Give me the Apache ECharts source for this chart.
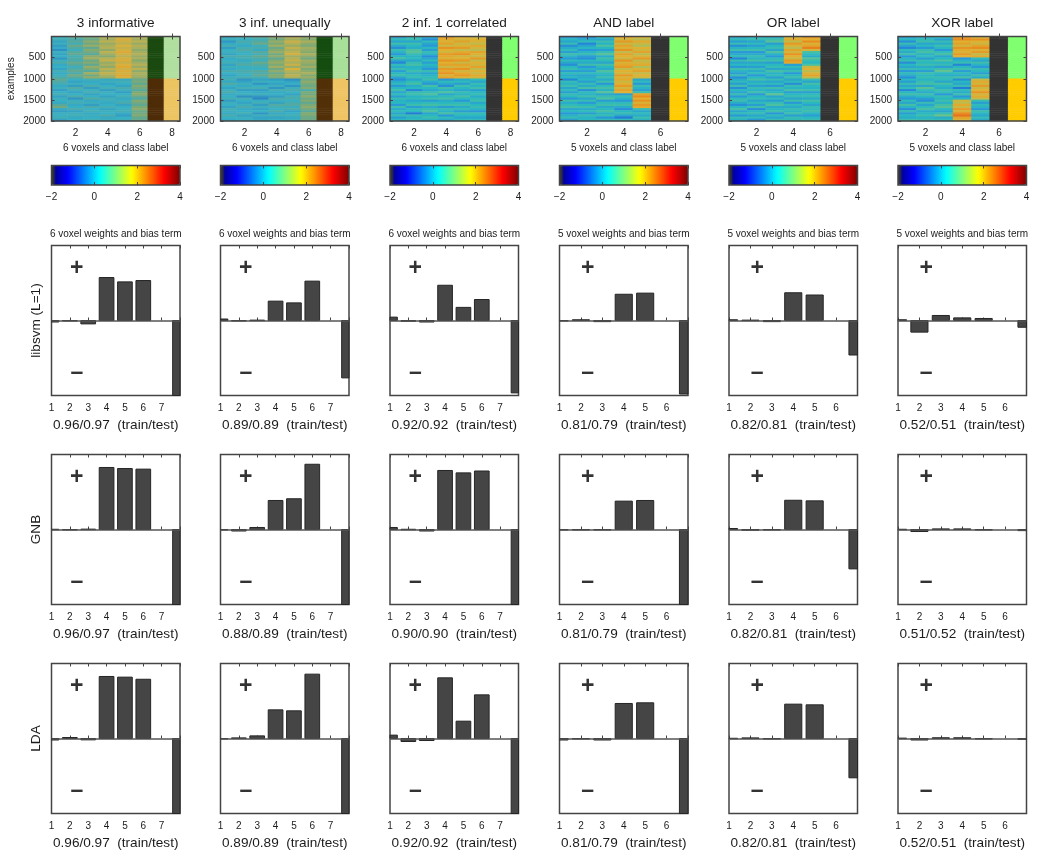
<!DOCTYPE html>
<html><head><meta charset="utf-8">
<style>html,body{margin:0;padding:0;background:#fff}#c{width:1050px;height:864px}</style>
<script src="https://cdn.jsdelivr.net/npm/echarts@6/dist/echarts.min.js"></script>
</head><body><div id="c"></div>
<script>
const panelTitles=['3 informative','3 inf. unequally','2 inf. 1 correlated','AND label','OR label','XOR label'];
const heatXNames=['6 voxels and class label','6 voxels and class label','6 voxels and class label','5 voxels and class label','5 voxels and class label','5 voxels and class label'];
const weightTitles=['6 voxel weights and bias term','6 voxel weights and bias term','6 voxel weights and bias term','5 voxel weights and bias term','5 voxel weights and bias term','5 voxel weights and bias term'];
const classifiers=['libsvm (L=1)','GNB','LDA'];
const scores=[
 ['0.96/0.97','0.89/0.89','0.92/0.92','0.81/0.79','0.82/0.81','0.52/0.51'],
 ['0.96/0.97','0.88/0.89','0.90/0.90','0.81/0.79','0.82/0.81','0.51/0.52'],
 ['0.96/0.97','0.89/0.89','0.92/0.92','0.81/0.79','0.82/0.81','0.52/0.51']];
// weights: voxels, empty slot, bias term
const libsvmWeights=[
 [-.02,-.005,-.045,.573,.515,.533,null,-1],
 [.02,-.005,.005,.258,.235,.525,null,-.765],
 [.045,-.01,-.02,.47,.175,.28,null,-.965],
 [-.005,.01,-.015,.35,.365,null,-.98],
 [.01,.005,-.015,.37,.34,null,-.46],
 [.01,-.155,.067,.035,.027,null,-.09]];
const gnbWeights=[
 [.003,-.005,.005,.827,.813,.805,null,-1],
 [0,-.02,.027,.387,.41,.87,null,-1],
 [.027,.003,-.02,.787,.755,.78,null,-1],
 [-.003,-.003,0,.378,.387,null,-1],
 [.013,-.01,-.005,.39,.382,null,-.525],
 [.003,-.027,.008,.008,0,null,-.015]];
const ldaWeights=[
 [-.02,.013,-.018,.827,.818,.79,null,-1],
 [0,.008,.035,.382,.369,.858,null,-1],
 [.045,-.04,-.027,.809,.231,.582,null,-1],
 [-.02,0,-.02,.467,.476,null,-1],
 [.003,.008,-.005,.458,.449,null,-.524],
 [.005,-.02,.01,.01,0,null,-.012]];
const signX=[2.38,2.38,2.38,2.32,2.32,2.32];
const plusY=.69, minusY=-.70;
// voxel values per column, 40 rows of 50 examples each
const heat1=[
[.0,.2,-.2,.1,-.3,-.1,-.5,.1,-.2,.0,-.4,.1,.3,-.1,.0,-.2,.2,-.1,.1,.3, .6,.4,.2,-.1,.1,-.3,.0,.2,-.2,.1,.0,-.1,.5,.8,-.1,-.3,.1,.0,.2,-.2],
[.6,.3,.5,.2,.7,.4,.1,.5,.6,.2,.4,.3,.7,.5,.1,.4,.6,.3,.8,.5, .0,-.2,.1,-.3,.4,.1,-.2,.0,.3,-.4,.1,.2,-.1,.0,.3,-.2,.1,.2,-.1,.0],
[.9,.7,1.1,.8,1.2,.6,1.0,.8,.5,1.1,1.3,.7,1.0,.6,1.2,.9,.5,1.3,.8,1.1, .2,-.1,.0,.3,-.3,.1,.2,-.2,.0,.4,-.1,.1,-.3,.3,.0,.2,-.1,.1,.0,.2],
[1.5,1.3,1.6,1.2,1.4,1.5,1.1,1.6,1.3,1.0,1.5,1.7,1.2,1.4,1.1,1.6,1.3,1.7,1.4,1.2, -.1,.1,-.2,.0,.2,-.3,.1,.0,-.2,.2,.1,-.1,.0,.2,-.2,.1,.0,.3,-.1,.1],
[1.7,2.1,1.8,1.6,2.0,1.7,1.9,2.2,1.8,1.6,1.9,2.1,1.7,2.0,2.2,1.8,2.1,1.9,2.2,2.0, -.1,.2,.0,-.2,.3,.1,-.3,.0,.2,-.1,.1,.3,-.2,.0,.1,.2,-.1,-.3,.0,.1],
[1.5,1.3,1.6,1.2,1.5,1.4,1.1,1.3,1.5,1.2,1.4,1.0,1.3,1.5,1.2,1.6,1.1,1.4,1.3,1.2, .7,.9,.6,1.0,.8,.5,.9,1.1,.7,.4,1.0,.8,.6,.9,1.1,.7,.8,1.0,.6,.7]];
const heat2=[
[-.2,.1,-.4,-.1,.2,-.3,.0,.1,-.2,.3,-.1,.0,.2,-.2,.1,-.1,.3,.0,-.2,.1, .2,-.1,.4,.0,-.2,.1,.3,-.1,.0,.2,-.3,.1,.0,-.2,.2,.1,-.1,.3,.0,-.1],
[.2,.0,.3,.1,-.1,.2,.4,.1,.0,.3,.2,-.1,.2,.4,.0,.1,.3,.2,.0,.3, -.4,-.2,.1,-.1,.2,-.3,.0,.1,-.5,.2,.0,-.2,.1,.3,-.1,.0,.2,-.2,.1,.0],
[.5,.2,.4,.7,.1,.3,-.1,.5,.2,.6,.3,.1,.7,.4,.2,.0,.5,.3,.6,.2, -.2,.1,-.4,.0,.2,-.3,-.1,.1,-.4,-.6,.0,.2,-.3,.1,-.2,.0,-.4,.1,-.2,-.1],
[1.1,.8,1.2,.9,1.3,.7,1.0,1.2,.8,1.1,.6,1.0,1.2,.9,1.3,.8,1.1,.7,1.0,.9, -.3,.0,-.2,.1,-.4,.2,-.1,.0,-.3,.3,.1,-.2,.4,.2,.0,.3,-.1,.2,-.2,.0],
[1.6,1.3,1.8,1.5,1.2,1.7,1.4,1.6,1.9,1.3,1.5,1.7,1.4,1.8,1.2,2.0,1.5,1.3,1.6,1.4, -.5,-.2,.0,-.4,.1,.3,.0,-.2,.2,.3,.0,.3,.4,.1,.3,-.2,.0,.2,-.1,.1],
[1.2,1.0,1.4,1.1,.9,1.3,1.2,1.0,1.4,1.1,.8,1.3,1.2,1.0,1.3,.9,1.1,1.4,1.0,1.2, .8,1.1,.9,.7,1.0,.3,.9,.8,1.1,.7,1.0,.6,.9,1.1,.8,.5,1.0,.9,.7,.8]];
const heat3=[
[-.4,.1,-.3,.3,-.2,-.6,.2,-.1,-.5,.0,.4,-.3,-.7,.1,-.2,.2,-.4,.0,.3,-.3, -.6,-.2,.1,-.5,.0,.3,-.3,.1,-.4,.2,-.1,.0,-.5,.3,-.2,.1,-.3,.2,-.4,.0],
[.0,.2,-.3,.3,.0,-.2,.5,.6,.2,-.1,.1,-.3,.2,.4,-.1,.0,.3,-.2,.1,.2, -.3,.1,.4,-.2,.0,-.7,.2,.3,-.1,.1,-.3,.0,.3,-.4,.1,.0,-.8,.2,-.1,.1],
[-.2,-.6,.1,-.3,-.5,.0,-.4,.2,-.1,-.6,-.3,.1,-.4,.0,-.2,-.5,.2,-.3,-.1,.1, .3,-.2,-.5,.4,.0,-.3,.2,.5,-.1,.3,-.4,.1,.4,-.2,.2,.5,-.3,.0,.3,-.1],
[2.3,2.1,1.9,2.2,1.7,2.4,2.0,1.8,2.3,2.1,1.9,2.4,2.0,2.2,1.7,2.3,2.1,2.4,1.9,2.2, -.5,.1,-.2,-.6,.3,-.1,.5,-.3,.1,.4,-.2,.0,.3,-.4,.2,-.1,.4,-.5,.1,-.2],
[2.0,1.8,2.2,1.7,1.9,2.3,1.6,2.1,2.4,1.8,2.0,2.3,1.7,2.2,1.9,2.4,1.8,2.1,2.3,1.9, -.2,.1,-.4,.3,.0,-.3,.2,-.1,.4,.0,-.5,.1,.3,-.2,.1,-.4,.2,.0,-.3,.1],
[1.7,2.0,1.9,1.6,2.1,1.8,1.5,2.2,1.9,1.7,2.3,1.6,2.0,1.8,2.2,1.6,2.0,1.7,2.1,1.8, .1,-.3,.2,-.1,.3,-.4,.0,.2,-.2,.1,.3,-.3,.0,.2,-.1,-.5,.2,.0,-.3,.1]];
const heat4=[
[-.5,.0,-.3,.2,-.6,-.2,.1,-.4,.3,-.1,-.5,.1,-.3,-.6,.0,.2,-.4,.1,-.2,.0, -.7,.2,-.1,.3,-.3,.1,-.4,.2,.0,-.5,.3,-.2,.1,.4,-.3,.0,-.5,-.1,.2,-.4],
[-.6,-.2,.1,-.7,-.3,.0,-.5,-.1,.2,-.4,-.6,.0,-.2,.3,-.5,-.1,-.4,.1,-.3,-.2, .0,-.4,.2,-.2,.4,-.6,.1,-.1,.3,-.3,.2,-.5,.0,.3,-.2,.1,-.4,.2,-.1,.0],
[.1,-.3,.3,-.1,.5,.0,-.4,.2,.6,-.2,.3,.1,-.3,.4,.0,-.2,.5,.1,-.1,.3, -.2,.3,-.5,.1,.4,-.1,.6,-.3,.2,.5,-.4,.1,.3,-.2,.0,.4,-.1,.2,-.5,.1],
[2.1,1.8,2.3,1.7,2.2,1.9,2.4,1.6,2.2,2.0,1.7,2.4,1.9,2.1,2.3,1.6,2.0,1.8,2.3,1.9, 2.1,1.7,2.0,2.3,1.8,2.2,2.0, -.4,.2,-.1,-.5,.1,.3,-.2,-.6,.0,.2,-.3,-.8,.1],
[1.9,1.5,2.1,1.7,1.4,2.0,1.8,2.2,1.5,1.9,2.3,1.6,1.8,2.1,1.4,1.9,2.2,1.6,2.0,1.7, -.3,.1,-.5,.2,-.1,-.4,.3, 2.2,2.5,2.0,2.4,1.9,2.3,2.1, .2,-.3,.1,-.2,.3,-.1]];
const heat5=[
[-.3,.1,-.4,.2,-.6,-.1,.3,-.5,-.2,.1,-.7,.2,-.3,.0,-.5,.3,-.1,-.4,.2,-.6, -.2,.1,-.4,.3,-.6,.0,-.3,.2,-.5,.1,.3,-.2,-.6,.0,.4,-.3,.1,-.5,.2,-.1],
[-.1,.2,-.3,.1,-.4,.0,.3,-.5,-.2,.2,-.1,.4,-.3,.0,-.4,.2,-.2,.1,-.5,.0, .4,-.2,.1,-.4,.2,-.1,.3,-.5,.0,.2,-.3,.1,-.4,.3,-.6,.0,.2,-.3,.1,-.5],
[-.2,.3,.6,-.4,.0,.2,-.3,.5,-.1,-.5,.1,.3,-.4,.0,.2,-.3,.4,-.1,.1,-.4, .2,-.3,.1,-.5,.3,-.2,.0,.7,-.3,.1,-.4,.2,.5,-.2,.0,.3,-.5,.1,-.3,.2],
[1.8,2.1,1.6,2.3,1.9,1.5,2.2,1.8,2.4,2.0,1.7,2.3,2.1, -.4,.1,-.2,.2,-.5,.0,.3, -.3,.1,-.6,.2,-.1,.4,-.4,.0,.2,-.3,.3,-.5,.1,-.2,.2,.0,.3,-.4,.2,.1],
[2.4,2.0,2.5,1.9,2.2,2.6,1.8, .4,.1,-.2,.6,.2,.0,.5, 1.7,2.0,1.5,1.9,2.2,1.6, .2,-.3,.4,.0,-.1,.3,-.4,.1,.2,-.2,.4,.0,-.3,.2,.1,.3,-.1,-.4,.0,.2]];
const heat6=[
[-.4,.0,-.6,.2,-.3,-.7,.1,-.2,.3,-.5,-.1,.2,-.6,.0,-.3,.2,-.5,.1,-.2,-.6, .0,-.4,.2,-.3,.1,-.7,.0,.3,-.2,-.5,.1,-.3,.4,-.1,-.6,.2,-.4,.0,-.2,.3],
[-.2,.1,.3,-.3,.0,-.5,.2,.4,-.1,.1,-.4,.2,.0,.3,-.2,.1,-.4,.3,.0,.2, -.1,.2,.4,-.3,.6,.1,-.2,.3,.0,-.4,-.6,.2,-.3,.1,.4,-.2,.0,.3,-.1,.2],
[.1,-.4,.2,-.2,.3,.0,-.5,.1,.4,-.3,.0,.5,-.1,.2,-.4,.3,.7,.0,-.2,.2, .1,-.3,.4,.0,-.2,.3,.1,-.5,.2,.0,.3,-.1,.4,.6,.0,-.3,.2,.8,-.2,.1],
[2.3,2.5,2.0,2.2,1.8,2.4,2.1,1.9,2.3,2.0, -.5,-.1,.2,-.7,.0,.3,-.4,.1,-.2,.4, -.6,.0,-.3,.2,-.8,.1,-.2,.3,-.5,.0, 1.8,1.6,2.1,1.7,2.3,1.9,2.5,2.7,2.2,1.9],
[1.8,2.4,2.0,1.7,2.2,2.5,1.9,2.3,1.6,2.1, .1,-.3,.3,-.1,-.5,.2,.0,-.4,.3,-.2, 1.6,2.1,1.8,2.3,1.7,2.0,2.4,1.8,2.1,1.6, .2,-.4,.1,-.1,-.5,.3,.0,-.3,.2,-.2]];
const heatPanels=[heat1,heat2,heat3,heat4,heat5,heat6];
const heatColumnLabels=[['1','2','3','4','5','6','7','8'],['1','2','3','4','5','6','7','8'],['1','2','3','4','5','6','7','8'],['1','2','3','4','5','6','7'],['1','2','3','4','5','6','7'],['1','2','3','4','5','6','7']];
const rowsPerClass=20;
const classColumnColors=[
 {gap:['#1b4a10','#4e2c08'],label:['#b0dfa0','#ecc462']},
 {gap:['#154d10','#523008'],label:['#a8e09a','#eec464']},
 {gap:['#333333','#333333'],label:['#80ff70','#ffcc00']},
 {gap:['#333333','#333333'],label:['#80ff70','#ffcc00']},
 {gap:['#333333','#333333'],label:['#80ff70','#ffcc00']},
 {gap:['#333333','#333333'],label:['#80ff70','#ffcc00']}];
const colorbarTicks=[-2,4];

// ---- layout and styling ----
const FONT='"Liberation Sans",Arial,sans-serif', TXT='#1c1c1c', LINE='#444';
const colLeft=[51.5,220.5,390,559.5,729,898], W=128.5;
const heatTop=36.5, heatH=84.5, barTop=[245.5,454.5,663.5], barH=150, cbTop=165.5, cbH=19.5;
const jet=[];
for(let i=0;i<64;i++){const t=i/63;const f=c=>Math.round(255*Math.max(0,Math.min(1,1.5-Math.abs(4*t-c))));
  jet.push(i<2?'#333333':'rgb('+f(3)+','+f(2)+','+f(1)+')');}
const mutedA=['#20307a','#2840a0','#2c68b8','#3090c4','#38b0c4','#58a89c','#84aa70','#b4b058','#d8b03c','#e89c30','#e06020','#b83010','#701010'];
const mutedB=['#10186a','#1030b0','#2068d8','#2a98d8','#2ab8c0','#4cc0a0','#7cc47c','#b8bc50','#e0b030','#e88c20','#e04c18','#c02010','#701008'];
const grids=[],xAxis=[],yAxis=[],series=[],title=[],visualMap=[];
function grid(left,top,width,height){grids.push({left,top,width,height,show:true,borderColor:LINE,borderWidth:1.5,backgroundColor:'transparent'});return grids.length-1;}
const tick={show:true,inside:true,length:3,lineStyle:{color:LINE,width:1}};
const lbl={color:TXT,fontFamily:FONT,fontSize:10};
const rowLabels=[];for(let i=0;i<rowsPerClass*2;i++)rowLabels.push(String(i));

function renderWeightBar(params,api){
  const x=api.value(0), v=api.value(1), half=.4;
  const a=api.coord([x-half,Math.max(v,0)]), b=api.coord([x+half,Math.min(v,0)]);
  const cs=params.coordSys;
  const shape=echarts.graphic.clipRectByRect({x:a[0],y:a[1],width:b[0]-a[0],height:Math.max(b[1]-a[1],.5)},{x:cs.x,y:cs.y,width:cs.width,height:cs.height});
  return shape?{type:'rect',shape,style:{fill:'#454545',stroke:'#262626',lineWidth:1}}:null;
}

panelTitles.forEach((name,p)=>{
  title.push({text:name,left:colLeft[p]+W/2,top:23.5,textAlign:'center',textVerticalAlign:'middle',padding:0,textStyle:{color:TXT,fontFamily:FONT,fontSize:13.6,fontWeight:'normal'}});
  title.push({text:weightTitles[p],left:colLeft[p]+W/2,top:234.5,textAlign:'center',textVerticalAlign:'middle',padding:0,textStyle:{color:TXT,fontFamily:FONT,fontSize:10,fontWeight:'normal'}});
  // heat panel
  const g=grid(colLeft[p],heatTop,W,heatH);
  const cats=heatColumnLabels[p], even=i=>(i+1)%2===0;
  const xi=xAxis.length, yi=yAxis.length;
  xAxis.push({gridIndex:g,type:'category',data:cats,position:'bottom',axisLine:{show:false},axisTick:{...tick,alignWithLabel:true,interval:even},splitLine:{show:false},
    axisLabel:{...lbl,interval:even,margin:7},name:heatXNames[p],nameLocation:'middle',nameGap:22.5,nameTextStyle:{...lbl}});
  xAxis.push({gridIndex:g,type:'category',data:cats,position:'top',axisLine:{show:false},axisTick:{...tick,alignWithLabel:true,interval:even},axisLabel:{show:false},splitLine:{show:false}});
  yAxis.push({gridIndex:g,type:'category',data:rowLabels,inverse:true,show:false});
  yAxis.push({gridIndex:g,type:'value',min:0,max:2000,interval:500,inverse:true,position:'left',axisLine:{show:false},axisTick:tick,splitLine:{show:false},
    axisLabel:{...lbl,margin:6,formatter:v=>v===0?'':String(v)},
    ...(p===0?{name:'examples',nameLocation:'middle',nameGap:35,nameRotate:90,nameTextStyle:{...lbl}}:{})});
  yAxis.push({gridIndex:g,type:'value',min:0,max:2000,interval:500,inverse:true,position:'right',axisLine:{show:false},axisTick:tick,splitLine:{show:false},axisLabel:{show:false}});
  const cells=[];
  heatPanels[p].forEach((col,c)=>col.forEach((v,r)=>cells.push([c,r,v])));
  const si=series.length;
  series.push({type:'heatmap',z:-1,xAxisIndex:xi,yAxisIndex:yi,data:cells,silent:true,progressive:0});
  const nc=heatPanels[p].length, cc=classColumnColors[p], classCells=[];
  rowLabels.forEach((_,r)=>{const k=r<rowsPerClass?0:1;
    classCells.push({value:[nc,r,0],itemStyle:{color:cc.gap[k]}});
    classCells.push({value:[nc+1,r,0],itemStyle:{color:cc.label[k]}});});
  series.push({type:'heatmap',z:-1,xAxisIndex:xi,yAxisIndex:yi,data:classCells,silent:true,progressive:0});
  visualMap.push({type:'continuous',show:false,seriesIndex:[si],min:-2,max:4,dimension:2,inRange:{color:p<2?mutedA:mutedB}});
  // colour bar
  visualMap.push({type:'continuous',show:true,seriesIndex:[],min:-2,max:4,orient:'horizontal',left:colLeft[p],top:cbTop,itemWidth:cbH,itemHeight:W,padding:0,calculable:false,showLabel:false,text:null,hoverLink:false,z:-1,inRange:{color:jet}});
  const gb=grid(colLeft[p],cbTop,W,cbH);
  xAxis.push({gridIndex:gb,type:'value',min:colorbarTicks[0],max:colorbarTicks[1],interval:2,position:'bottom',axisLine:{show:false},axisTick:tick,splitLine:{show:false},axisLabel:{...lbl,margin:7,formatter:v=>String(v).replace('-','−')}});
  xAxis.push({gridIndex:gb,type:'value',min:colorbarTicks[0],max:colorbarTicks[1],interval:2,position:'top',axisLine:{show:false},axisTick:tick,splitLine:{show:false},axisLabel:{show:false}});
  yAxis.push({gridIndex:gb,type:'value',min:0,max:1,show:false});
  // weight panels
  [libsvmWeights,gnbWeights,ldaWeights].forEach((weights,row)=>{
    const vals=weights[p], gr=grid(colLeft[p],barTop[row],W,barH), xMax=vals.length, bx=xAxis.length, by=yAxis.length;
    xAxis.push({gridIndex:gr,type:'value',min:1,max:xMax,interval:1,position:'bottom',axisLine:{show:false},axisTick:tick,splitLine:{show:false},
      axisLabel:{...lbl,margin:8,formatter:v=>v===xMax?'':String(v)},
      name:scores[row][p]+'  (train/test)',nameLocation:'middle',nameGap:23,nameTextStyle:{color:TXT,fontFamily:FONT,fontSize:13.6}});
    xAxis.push({gridIndex:gr,type:'value',min:1,max:xMax,interval:1,position:'top',axisLine:{show:false},axisTick:tick,splitLine:{show:false},axisLabel:{show:false}});
    yAxis.push({gridIndex:gr,type:'value',min:-1,max:1,position:'left',axisLine:{show:false},axisTick:{show:false},axisLabel:{show:false},splitLine:{show:false},
      ...(p===0?{name:classifiers[row],nameLocation:'middle',nameGap:8,nameRotate:90,nameTextStyle:{color:TXT,fontFamily:FONT,fontSize:13.6}}:{})});
    const pts=[];vals.forEach((v,i)=>{if(v!==null)pts.push([i+1,v]);});
    series.push({type:'custom',xAxisIndex:bx,yAxisIndex:by,silent:true,renderItem:renderWeightBar,encode:{x:0,y:1},data:pts,
      markLine:{silent:true,symbol:'none',animation:false,label:{show:false},lineStyle:{color:'#555',width:1.5,type:'solid'},data:[{yAxis:0}]}});
    series.push({type:'scatter',xAxisIndex:bx,yAxisIndex:by,silent:true,symbolSize:0,
      data:[[signX[p],plusY],[signX[p],minusY]],
      label:{show:true,position:'inside',formatter:o=>o.dataIndex===0?'+':'–',color:'#000',fontFamily:FONT,fontSize:23,fontWeight:'bold'}});
  });
});
const chart=echarts.init(document.getElementById('c'),null,{renderer:'canvas'});
chart.setOption({animation:false,backgroundColor:'#fff',title,grid:grids,xAxis,yAxis,visualMap,series,tooltip:{show:false}});
</script></body></html>
